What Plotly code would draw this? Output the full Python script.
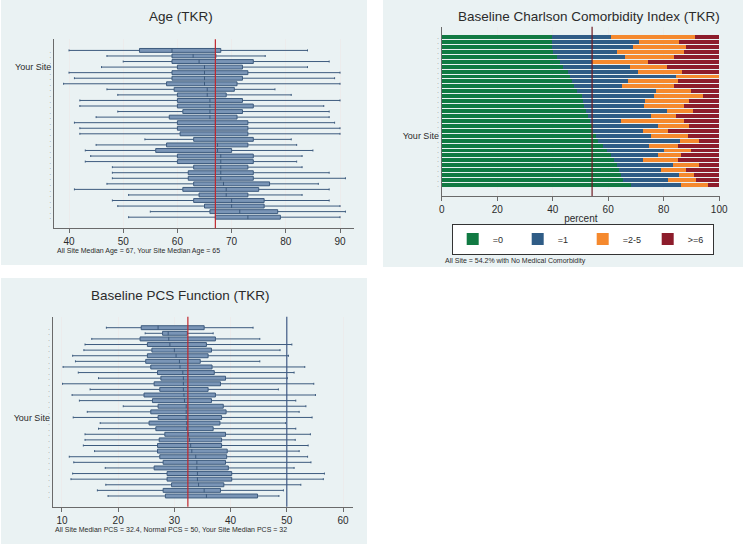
import plotly.graph_objects as go

# ---------------- DATA ----------------
# Age (TKR): one row per site, top to bottom
age_site_labels = ["·", "·", "·", "Your Site"] + ["·"] * 27
age_low = [40, 47, 50, 46, 40, 41, 39, 47, 49, 42, 42, 49, 45, 41, 42, 42, 54, 45, 43, 44, 43, 48, 48, 48, 47, 41, 51, 48, 49, 55, 51]
age_q1 = [53, 59, 59, 60, 59, 59, 58, 59.4, 60, 60, 60, 61, 58.5, 60, 60, 60.5, 63, 58, 56, 60, 60, 63, 62, 62, 63, 61, 64, 63, 65, 66, 67]
age_med = [59, 62.9, 64, 65, 65, 65, 65, 65.5, 65.5, 66, 66, 66, 66, 67, 67, 67, 67, 67.4, 67.4, 68, 68, 68, 68, 68, 68.5, 69, 69, 70, 70, 71.5, 73]
age_q3 = [68, 67.1, 74, 72, 73, 72, 71, 70.5, 69, 72, 74, 72, 71, 73, 73, 73, 74, 73, 70, 74, 74, 73, 74, 74, 77, 75, 73, 76, 76, 78.5, 79]
age_high = [84, 76.2, 88, 84, 90, 89, 90, 78, 81, 90, 87, 88, 88, 89, 90, 90, 81, 82, 85, 83, 82, 83, 88, 91, 86, 88, 83, 88, 90, 91, 90]
age_all_site_median = 67
age_ticks = [40, 50, 60, 70, 80, 90]

# Baseline Charlson Comorbidity Index (TKR): percent of patients per category
cci_site_labels = ["·"] * 20 + ["Your Site"] + ["·"] * 10
cci_categories = ["=0", "=1", "=2-5", ">=6"]
cci_pct_0 = [39.6, 39.6, 39.6, 40.0, 41.4, 42.6, 43.8, 45.6, 46.2, 46.8, 47.7, 48.6, 50.4, 51.0, 51.3, 52.0, 52.8, 53.5, 54.0, 54.5, 55.5, 56.5, 58.0, 59.5, 61.0, 62.0, 63.0, 63.8, 64.5, 65.5, 68.4]
cci_pct_1 = [21.3, 31.5, 29.4, 23.0, 24.6, 11.7, 24.0, 25.2, 38.1, 20.4, 17.4, 28.8, 26.1, 22.2, 21.6, 29.3, 22.8, 11.0, 24.0, 18.1, 19.8, 29.3, 16.7, 20.7, 17.0, 10.4, 20.2, 15.4, 21.1, 16.1, 18.0]
cci_pct_2_5 = [30.3, 14.5, 19.0, 24.3, 17.7, 20.1, 13.5, 15.9, 15.7, 18.0, 18.6, 12.3, 17.7, 16.0, 14.4, 9.1, 9.0, 22.9, 11.0, 9.1, 13.3, 7.0, 10.5, 9.8, 8.2, 12.8, 9.6, 9.0, 5.4, 9.9, 9.6]
cci_pct_6 = [8.8, 14.4, 12.0, 12.7, 16.3, 25.6, 18.7, 13.3, 0.0, 14.8, 16.3, 10.3, 5.8, 10.8, 12.7, 9.6, 15.4, 12.6, 11.0, 18.3, 11.4, 7.2, 14.8, 10.0, 13.8, 14.8, 7.2, 11.8, 9.0, 8.5, 4.0]
cci_all_site_pct0 = 54.2
cci_ticks = [0, 20, 40, 60, 80, 100]

# Baseline PCS Function (TKR)
pcs_site_labels = ["·"] * 16 + ["Your Site"] + ["·"] * 14
pcs_low = [17.9, 24.8, 15.3, 14.1, 13.9, 11.9, 12.4, 10.2, 12.9, 16.5, 10.1, 15.0, 11.8, 13.1, 20.9, 14.5, 12.0, 16.8, 16.5, 14.1, 14.1, 13.8, 15.8, 11.3, 12.1, 17.7, 11.9, 11.6, 17.8, 16.3, 18.2]
pcs_q1 = [24.1, 27.9, 23.9, 25.2, 26.0, 25.2, 24.9, 25.8, 27.0, 27.6, 26.4, 27.4, 24.6, 26.1, 27.1, 25.8, 27.1, 25.5, 26.7, 28.3, 27.3, 27.0, 27.0, 27.4, 28.0, 26.4, 28.7, 28.7, 29.5, 28.0, 28.4]
pcs_med = [27.1, 28.9, 29.0, 29.2, 30.0, 30.3, 30.9, 31.0, 31.5, 31.6, 31.6, 31.6, 31.7, 31.8, 32.1, 32.1, 32.1, 32.2, 32.2, 32.5, 32.7, 32.9, 33.1, 33.8, 34.0, 34.0, 34.1, 34.1, 34.3, 35.3, 35.7]
pcs_q3 = [35.3, 32.3, 37.3, 35.7, 36.6, 36.0, 34.6, 36.7, 37.1, 39.1, 38.2, 36.0, 37.3, 36.6, 38.7, 39.2, 38.4, 38.1, 36.9, 39.1, 38.4, 38.4, 39.4, 39.3, 39.1, 39.6, 40.2, 40.2, 38.8, 38.2, 44.8]
pcs_high = [44.0, 36.9, 45.2, 50.9, 48.8, 50.3, 45.2, 53.2, 51.3, 50.1, 54.8, 48.5, 55.1, 51.6, 53.4, 52.2, 54.5, 49.8, 51.6, 54.2, 51.5, 53.8, 52.2, 53.7, 54.3, 51.3, 56.7, 56.5, 52.5, 49.4, 48.6]
pcs_all_site_median = 32.4
pcs_normal = 50
pcs_ticks = [10, 20, 30, 40, 50, 60]

# ---------------- STYLE ----------------
W, H = 750, 545
FONT = "Liberation Sans, Arial, sans-serif"
PANEL_BG = "#eaf2f3"
TEXT = "#2b2b2b"
AXIS = "#6a6a6a"
GRID = "#ececec"
BOX_FILL = "#7a95b6"
BOX_LINE = "#3d5b7e"
RED = "#c0272d"
CCI_LINE = "#6e1b24"
NORMAL_LINE = "#3f5b86"
CCI_COLORS = ["#117a43", "#2f5c86", "#f5892e", "#8d1c2b"]


def px_x(x):
    return x / W


def px_y(y):
    return 1 - y / H


def tick_labels(labels):
    out = []
    for t in labels:
        if t == "·":
            out.append("<span style='font-size:6px;color:#555'>·</span>")
        else:
            out.append(t)
    return out


fig = go.Figure()

# ---- Age boxes ----
age_pos = list(range(len(age_site_labels)))
fig.add_trace(go.Box(
    y=age_pos, q1=age_q1, median=age_med, q3=age_q3,
    lowerfence=age_low, upperfence=age_high,
    orientation="h", width=0.7, whiskerwidth=0.5,
    fillcolor=BOX_FILL, line=dict(color=BOX_LINE, width=1),
    boxpoints=False, showlegend=False, hoverinfo="skip",
    xaxis="x", yaxis="y",
))

# ---- Charlson stacked bars ----
cci_pos = list(range(len(cci_site_labels)))
for name, vals, col in zip(cci_categories,
                           [cci_pct_0, cci_pct_1, cci_pct_2_5, cci_pct_6],
                           CCI_COLORS):
    fig.add_trace(go.Bar(
        y=cci_pos, x=vals, orientation="h", name=name,
        marker=dict(color=col, line=dict(width=0)),
        xaxis="x2", yaxis="y2", hoverinfo="skip",
    ))

# ---- PCS boxes ----
pcs_pos = list(range(len(pcs_site_labels)))
fig.add_trace(go.Box(
    y=pcs_pos, q1=pcs_q1, median=pcs_med, q3=pcs_q3,
    lowerfence=pcs_low, upperfence=pcs_high,
    orientation="h", width=0.7, whiskerwidth=0.5,
    fillcolor=BOX_FILL, line=dict(color=BOX_LINE, width=1),
    boxpoints=False, showlegend=False, hoverinfo="skip",
    xaxis="x3", yaxis="y3",
))

# ---- panel backgrounds ----
shapes = []
for (x0, y0, x1, y1) in [(1, 0, 367, 265), (383, 0, 743, 267), (1, 278, 367, 544)]:
    shapes.append(dict(type="rect", xref="paper", yref="paper",
                       x0=px_x(x0), x1=px_x(x1), y0=px_y(y1), y1=px_y(y0),
                       fillcolor=PANEL_BG, line=dict(width=0), layer="below"))

# ---- reference lines (data coords) ----
shapes.append(dict(type="line", xref="x", yref="y domain", x0=age_all_site_median, x1=age_all_site_median,
                   y0=0, y1=1, line=dict(color=RED, width=1.2)))
shapes.append(dict(type="line", xref="x2", yref="y2 domain", x0=cci_all_site_pct0, x1=cci_all_site_pct0,
                   y0=0, y1=1, line=dict(color=CCI_LINE, width=1.2)))
shapes.append(dict(type="line", xref="x3", yref="y3 domain", x0=pcs_all_site_median, x1=pcs_all_site_median,
                   y0=0, y1=1, line=dict(color=RED, width=1.2)))
shapes.append(dict(type="line", xref="x3", yref="y3 domain", x0=pcs_normal, x1=pcs_normal,
                   y0=0, y1=1, line=dict(color=NORMAL_LINE, width=1.2)))


def xaxis_common(rng, ticks, domain, anchor):
    return dict(domain=domain, anchor=anchor, range=rng, tickvals=ticks,
                showgrid=True, gridcolor=GRID, gridwidth=1, zeroline=False,
                showline=True, linecolor=AXIS, linewidth=1,
                ticks="outside", ticklen=4, tickcolor=AXIS,
                tickfont=dict(size=10, color=TEXT, family=FONT), fixedrange=True,
                automargin=False)


def yaxis_common(rng, labels, domain, anchor):
    return dict(domain=domain, anchor=anchor, range=rng,
                tickmode="array", tickvals=list(range(len(labels))), ticktext=tick_labels(labels),
                showgrid=False, zeroline=False, showline=True, linecolor=AXIS, linewidth=1,
                ticks="", tickfont=dict(size=9, color=TEXT, family=FONT), fixedrange=True,
                automargin=False)


def title_ann(text, x, y):
    return dict(text=text, x=px_x(x), y=px_y(y), xref="paper", yref="paper",
                xanchor="center", yanchor="middle", showarrow=False,
                font=dict(size=13.5, color=TEXT, family=FONT))


def note_ann(text, x, y):
    return dict(text=text, x=px_x(x), y=px_y(y), xref="paper", yref="paper",
                xanchor="left", yanchor="middle", showarrow=False,
                font=dict(size=7, color=TEXT, family=FONT))


your_age = age_med[age_site_labels.index("Your Site")]
your_pcs = pcs_med[pcs_site_labels.index("Your Site")]
annotations = [
    title_ann("Age (TKR)", 181, 17),
    title_ann("Baseline Charlson Comorbidity Index (TKR)", 589, 17),
    title_ann("Baseline PCS Function (TKR)", 180, 295),
    note_ann(f"All Site Median Age = {age_all_site_median}, Your Site Median Age = {your_age:.0f}", 55, 251),
    note_ann(f"All Site = {cci_all_site_pct0}% with No Medical Comorbidity", 443, 261),
    note_ann(f"All Site Median PCS = {pcs_all_site_median}, Normal PCS = {pcs_normal}, "
             f"Your Site Median PCS = {your_pcs:.0f}", 53, 529),
]

xa2 = xaxis_common([0, 100.3], cci_ticks, [px_x(441.7), px_x(720)], "y2")
xa2["title"] = dict(text="percent", font=dict(size=10, color=TEXT, family=FONT), standoff=0)

fig.update_layout(
    width=W, height=H,
    margin=dict(l=0, r=0, t=0, b=0, autoexpand=False),
    paper_bgcolor="white", plot_bgcolor="white",
    font=dict(family=FONT, color=TEXT),
    barmode="stack", bargap=0.2,
    xaxis=xaxis_common([37.23, 92.58], age_ticks, [px_x(54), px_x(354)], "y"),
    yaxis=yaxis_common([32, -2], age_site_labels, [px_y(228.3), px_y(39.3)], "x"),
    xaxis2=xa2,
    yaxis2=yaxis_common([32.23, -2.09], cci_site_labels, [px_y(196), px_y(26.7)], "x2"),
    xaxis3=xaxis_common([8.35, 61.78], pcs_ticks, [px_x(52.7), px_x(353)], "y3"),
    yaxis3=yaxis_common([31.91, -1.96], pcs_site_labels, [px_y(506.7), px_y(316.7)], "x3"),
    shapes=shapes,
    annotations=annotations,
    legend=dict(orientation="h", x=px_x(451.7), y=px_y(223.5), xanchor="left", yanchor="top",
                bgcolor="white", bordercolor="#333333", borderwidth=1,
                font=dict(size=9, color=TEXT, family=FONT),
                itemwidth=30, entrywidth=20, entrywidthmode="pixels", traceorder="normal",
                tracegroupgap=0),
    showlegend=True,
)

fig.write_html("out.html", config={"displayModeBar": False},
               post_script="document.body.style.margin='0';")
